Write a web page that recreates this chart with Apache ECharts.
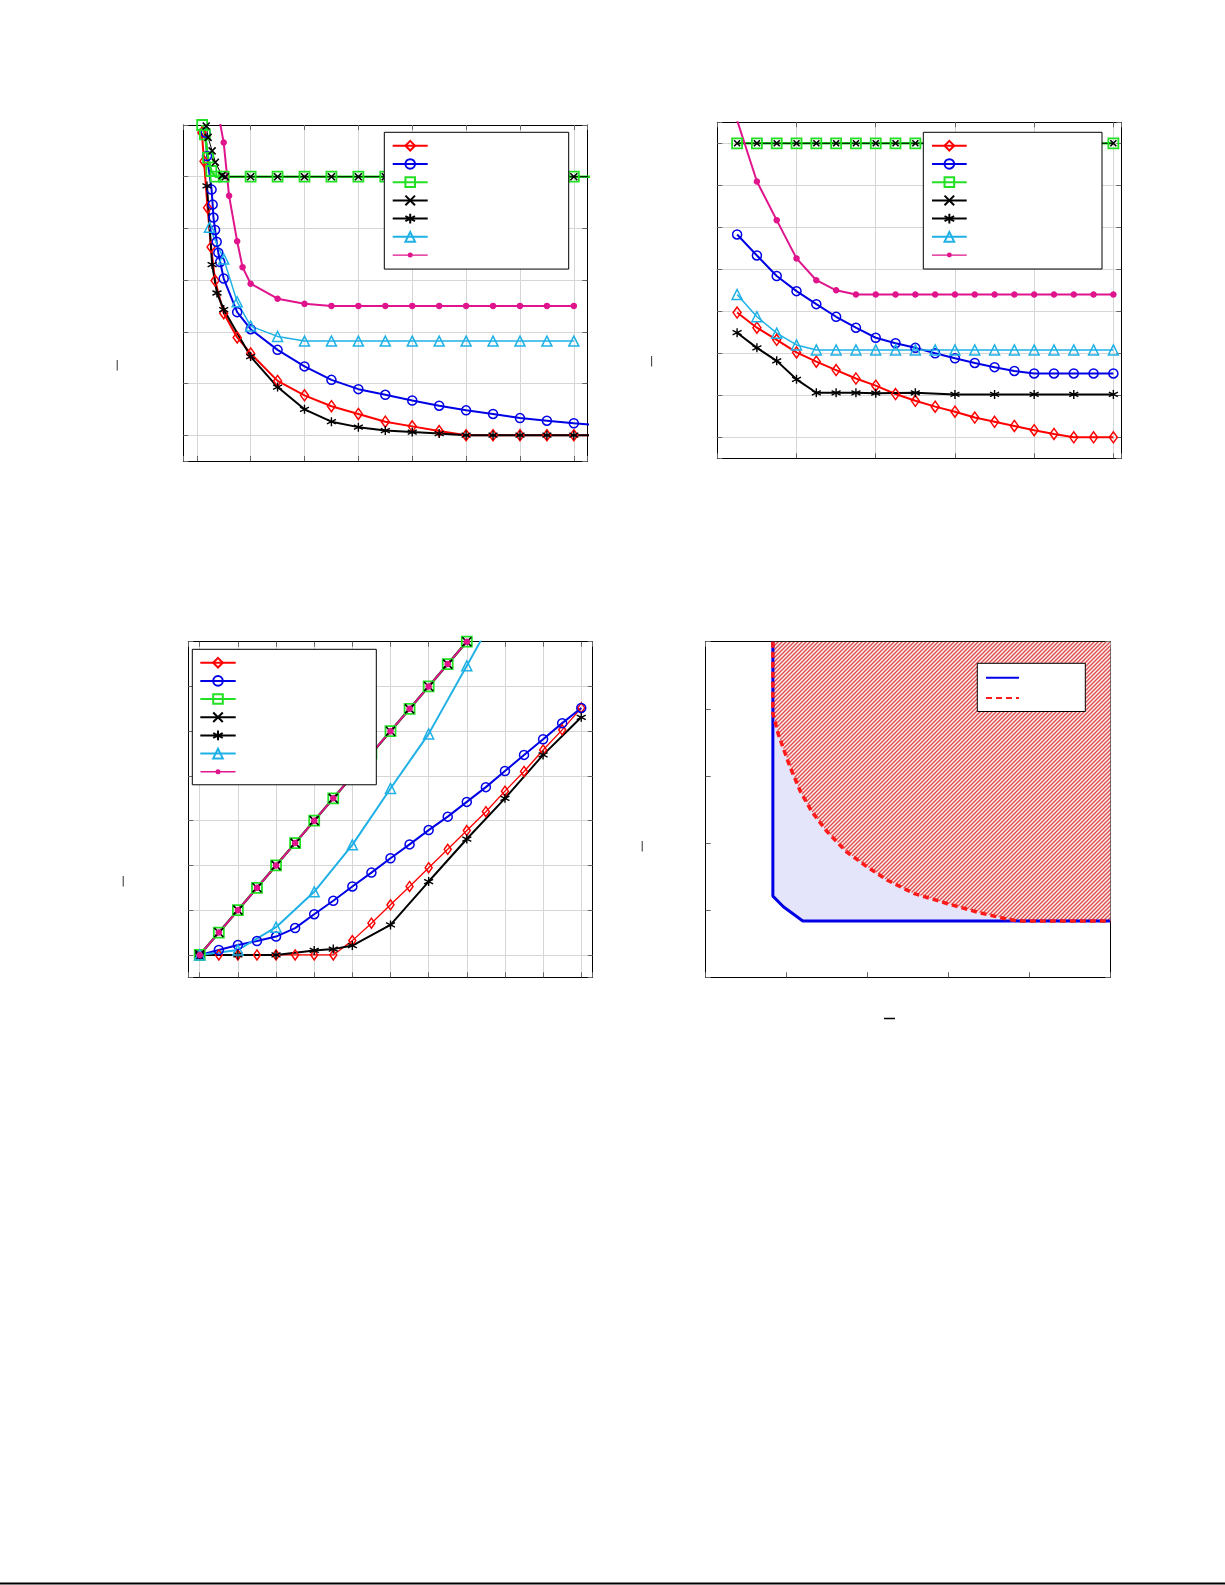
<!DOCTYPE html>
<html><head><meta charset="utf-8">
<script src="https://cdn.jsdelivr.net/npm/echarts@6/dist/echarts.min.js"></script>
<style>html,body{margin:0;padding:0;background:#fff}#c{width:1225px;height:1585px}</style>
</head><body><div id="c"></div>
<script>
// ---------- DATA ----------
// Panel 1 (top-left): [x, y] pairs
const p1Red = [[0.19,5.85],[0.27,5.30],[0.40,4.40],[0.53,3.64],[0.68,2.99],[1,2.36],[1.5,1.89],[2,1.58],[3,1.05],[4,0.77],[5,0.56],[6,0.41],[7,0.26],[8,0.17],[9,0.08],[10,0],[11,0],[12,0],[13,0],[14,0],[15,0]];
const p1Blue = [[0.33,5.85],[0.38,5.40],[0.55,4.75],[0.59,4.46],[0.62,4.21],[0.68,3.97],[0.74,3.74],[0.80,3.53],[0.87,3.35],[1,3.03],[1.5,2.38],[2,2.05],[3,1.65],[4,1.33],[5,1.07],[6,0.89],[7,0.78],[8,0.67],[9,0.57],[10,0.48],[11,0.41],[12,0.33],[13,0.28],[14,0.23],[15,0.19]];
const p1Green = [[0.20,6.00],[0.30,5.82],[0.42,5.37],[0.54,5.11],[0.70,5.00],[1,5],[2,5],[3,5],[4,5],[5,5],[6,5],[7,5],[8,5],[9,5],[10,5],[11,5],[12,5],[13,5],[14,5],[15,5]];
const p1Cross = [[0.35,5.98],[0.42,5.76],[0.57,5.50],[0.69,5.28],[0.94,5.02],[1.06,5],[2,5],[3,5],[4,5],[5,5],[6,5],[7,5],[8,5],[9,5],[10,5],[11,5],[12,5],[13,5],[14,5],[15,5]];
const p1Star = [[0.38,4.82],[0.57,3.30],[0.75,2.75],[1,2.43],[2,1.52],[3,0.93],[4,0.50],[5,0.26],[6,0.155],[7,0.09],[8,0.06],[9,0.03],[10,0],[11,0],[12,0],[13,0],[14,0],[15,0]];
const p1Cyan = [[0.47,4.02],[1,3.41],[1.5,2.58],[2,2.11],[3,1.91],[4,1.82],[5,1.82],[6,1.82],[7,1.82],[8,1.82],[9,1.82],[10,1.82],[11,1.82],[12,1.82],[13,1.82],[14,1.82]];
const p1Magenta = [[0.7,6.5],[1,5.66],[1.2,4.63],[1.5,3.75],[1.7,3.25],[2,2.93],[3,2.64],[4,2.54],[5,2.50],[6,2.50],[7,2.50],[8,2.50],[9,2.50],[10,2.50],[11,2.50],[12,2.50],[13,2.50],[14,2.50]];

// Panel 2 (top-right)
const p2X = [1,2,3,4,5,6,7,8,9,10,11,12,13,14,15,16,17,18,19,20];
const p2Red = [2.97,2.61,2.32,2.02,1.80,1.60,1.40,1.23,1.03,0.87,0.73,0.61,0.47,0.37,0.27,0.17,0.08,0,0,0];
const p2Blue = [4.83,4.33,3.84,3.48,3.17,2.87,2.61,2.37,2.24,2.13,2.00,1.88,1.77,1.67,1.58,1.52,1.52,1.52,1.52,1.52];
const p2Green = [7,7,7,7,7,7,7,7,7,7,7,7,7,7,7,7,7,7,7,7];
const p2Cross = [7,7,7,7,7,7,7,7,7,7,7,7,7,7,7,7,7,7,7,7];
const p2StarX = [1,2,3,4,5,6,7,8,10,12,14,16,18,20];
const p2Star = [2.49,2.13,1.82,1.38,1.06,1.06,1.06,1.05,1.06,1.02,1.02,1.02,1.02,1.02];
const p2Cyan = [3.40,2.87,2.48,2.20,2.08,2.08,2.08,2.08,2.08,2.08,2.08,2.08,2.08,2.08,2.08,2.08,2.08,2.08,2.08,2.08];
const p2Magenta = [7.55,6.09,5.17,4.26,3.74,3.50,3.40,3.40,3.40,3.40,3.40,3.40,3.40,3.40,3.40,3.40,3.40,3.40,3.40,3.40];

// Panel 3 (bottom-left)
const p3X = [0,1,2,3,4,5,6,7,8,9,10,11,12,13,14,15,16,17,18,19,20];
const p3Red = [0,0,0,0,0,0,0,0,0.32,0.71,1.12,1.53,1.95,2.36,2.78,3.20,3.66,4.10,4.58,5.03,5.52];
const p3Blue = [0,0.11,0.22,0.31,0.41,0.60,0.91,1.21,1.53,1.84,2.16,2.47,2.79,3.09,3.42,3.75,4.11,4.47,4.82,5.18,5.52];
const p3Green = [0,0.5,1,1.5,2,2.5,3,3.5,4,4.5,5,5.5,6,6.5,7,7.5,8];
const p3Cross = [0,0.5,1,1.5,2,2.5,3,3.5,4,4.5,5,5.5,6,6.5,7,7.5,8];
const p3Magenta = [0,0.5,1,1.5,2,2.5,3,3.5,4,4.5,5,5.5,6,6.5,7,7.5,8];
const p3StarX = [0,2,4,6,7,8,10,12,14,16,18,20];
const p3Star = [0,0,0,0.10,0.13,0.21,0.67,1.64,2.59,3.50,4.47,5.31];
const p3CyanX = [0,2,4,6,8,10,12,14,16];
const p3Cyan = [0,0.11,0.62,1.41,2.46,3.72,4.94,6.46,8.0];

// Panel 4 (bottom-right): boundaries
const p4Blue = [[0.83,5],[0.83,1.21],[0.96,1.05],[1.2,0.84],[5,0.84]];
const p4Red = [[0.83,5],[0.83,3.93],[0.90,3.61],[0.96,3.41],[1.04,3.14],[1.17,2.77],[1.31,2.47],[1.5,2.17],[1.74,1.87],[1.99,1.65],[2.24,1.45],[2.57,1.25],[2.98,1.10],[3.39,0.96],[3.68,0.88],[3.84,0.84],[5,0.84]];

// ---------- STYLE / LAYOUT ----------
const C = {red:'#ff0000', blue:'#0000e6', green:'#22e022', black:'#000000', cyan:'#1fb1e6', magenta:'#e0148c'};
const CROSS = 'path://M0,0L10,10M0,10L10,0';
const STAR = 'path://M5,0L5,10M0.67,2.5L9.33,7.5M0.67,7.5L9.33,2.5';
const NONE = 'rgba(255,255,255,0)';
const DOT_ICON = 'path://M0,0L0.01,0L0,0.01Z M0,5.3L35,5.3L35,6.7L0,6.7Z M20,6A2.5,2.5 0 1 1 15,6A2.5,2.5 0 1 1 20,6Z M35,12L34.99,12L35,11.99Z';

const grids = [
  {left:183.3, top:125, width:404, height:336},
  {left:717.3, top:122.3, width:404, height:336},
  {left:188.3, top:641.7, width:404.4, height:335.6},
  {left:705.7, top:641.7, width:404.6, height:335.6}
];
const xCfg = [
  {min:-0.5, max:14.5, splitNumber:7},
  {min:0, max:20.4, interval:4},
  {min:-0.6, max:20.6, splitNumber:10},
  {min:0, max:5, interval:1}
];
const yCfg = [
  {min:-0.5, max:6, splitNumber:6},
  {min:-0.5, max:7.5, splitNumber:6},
  {min:-0.5, max:7, splitNumber:6},
  {min:0, max:5, interval:1}
];
function axes(dim, cfgs) {
  const out = [];
  cfgs.forEach((cfg, gi) => {
    const base = Object.assign({
      gridIndex: gi, type: 'value', silent: true,
      axisLabel: {show: false},
      axisLine: {show: true, onZero: false, lineStyle: {color: '#000', width: 1}},
      axisTick: {show: true, inside: true, length: 5, lineStyle: {color: '#666', width: 1}},
      splitLine: {show: gi < 3, lineStyle: {color: '#d6d6d6', width: 1}}
    }, cfg);
    const a = Object.assign({}, base, {position: dim === 'x' ? 'bottom' : 'left'});
    const b = Object.assign({}, base, {position: dim === 'x' ? 'top' : 'right', splitLine: {show: false}});
    out.push(a, b);
  });
  return out;
}
function zip(xs, ys) { return ys.map((y, i) => [xs[i], y]); }
function ser(name, p, data, o) {
  return {
    name, type: 'line', xAxisIndex: 2 * p, yAxisIndex: 2 * p, data,
    silent: true, animation: false, showAllSymbol: true, clip: true,
    symbol: o.symbol, symbolSize: o.size,
    itemStyle: {color: o.fill || NONE, borderColor: o.color, borderWidth: o.bw || 1.5},
    lineStyle: {color: o.color, width: o.lw},
    z: o.z || 2
  };
}
const series = [];
function addPanel(p, prefix, d, opt) {
  series.push(ser(prefix + '1', p, d.red, {symbol: 'diamond', size: opt.dia, color: C.red, lw: opt.redLw}));
  series.push(ser(prefix + '2', p, d.blue, {symbol: 'circle', size: 9, color: C.blue, lw: 2}));
  series.push(ser(prefix + '3', p, d.green, {symbol: 'rect', size: 10, color: C.green, lw: 2.5, bw: 1.8}));
  series.push(ser(prefix + '4', p, d.cross, {symbol: CROSS, size: opt.cross, color: C.black, lw: opt.crossLw, bw: 1.6}));
  series.push(ser(prefix + '5', p, d.star, {symbol: STAR, size: 9, color: C.black, lw: 2, bw: 1.4}));
  series.push(ser(prefix + '6', p, d.cyan, {symbol: 'triangle', size: 10, color: C.cyan, lw: opt.cyanLw}));
  series.push(ser(prefix + '7', p, d.magenta, {symbol: 'circle', size: 5, color: C.magenta, fill: C.magenta, lw: 2, bw: 0}));
}
addPanel(0, 'a', {red: p1Red, blue: p1Blue, green: p1Green, cross: p1Cross, star: p1Star, cyan: p1Cyan, magenta: p1Magenta},
  {dia: [8, 11], redLw: 2, cross: 7, crossLw: 1, cyanLw: 1.5});
addPanel(1, 'b', {red: zip(p2X, p2Red), blue: zip(p2X, p2Blue), green: zip(p2X, p2Green), cross: zip(p2X, p2Cross),
  star: zip(p2StarX, p2Star), cyan: zip(p2X, p2Cyan), magenta: zip(p2X, p2Magenta)},
  {dia: [8, 11], redLw: 2, cross: 6, crossLw: 1, cyanLw: 1.5});
addPanel(2, 'c', {red: zip(p3X, p3Red), blue: zip(p3X, p3Blue), green: zip(p3X, p3Green), cross: zip(p3X, p3Cross),
  star: zip(p3StarX, p3Star), cyan: zip(p3CyanX, p3Cyan), magenta: zip(p3X, p3Magenta)},
  {dia: [7, 10], redLw: 1.3, cross: 9, crossLw: 2, cyanLw: 2});

// hatch pattern for panel 4
const pc = document.createElement('canvas'); pc.width = 4; pc.height = 4;
const cx = pc.getContext('2d');
cx.fillStyle = '#fdeeee'; cx.fillRect(0, 0, 4, 4);
cx.strokeStyle = '#dc4c4c'; cx.lineWidth = 1.3;
cx.beginPath();
cx.moveTo(-1, 5); cx.lineTo(5, -1);
cx.moveTo(-1, 1); cx.lineTo(1, -1);
cx.moveTo(3, 5); cx.lineTo(5, 3);
cx.stroke();

series.push({name: 'dfillB', type: 'line', xAxisIndex: 6, yAxisIndex: 6, data: p4Blue, silent: true, animation: false,
  symbol: 'none', lineStyle: {width: 0}, areaStyle: {origin: 'end', color: '#e4e4fb', opacity: 1}, z: 1});
series.push({name: 'dfillR', type: 'line', xAxisIndex: 6, yAxisIndex: 6, data: p4Red, silent: true, animation: false,
  symbol: 'none', lineStyle: {width: 0}, areaStyle: {origin: 'end', color: {image: pc, repeat: 'repeat'}, opacity: 1}, z: 1});
series.push({name: 'd1', type: 'line', xAxisIndex: 6, yAxisIndex: 6, data: p4Blue, silent: true, animation: false,
  symbol: 'none', itemStyle: {color: NONE, borderWidth: 0, opacity: 0}, lineStyle: {color: C.blue, width: 3}, z: 3});
series.push({name: 'd2', type: 'line', xAxisIndex: 6, yAxisIndex: 6, data: p4Red, silent: true, animation: false,
  symbol: 'none', itemStyle: {color: NONE, borderWidth: 0, opacity: 0}, lineStyle: {color: '#ff1a1a', width: 3.5, type: [6, 4]}, z: 4});

function legend(names, left, top, pad, itemWidth, itemHeight, gap, extra) {
  return Object.assign({
    data: names, orient: 'vertical', left, top, padding: pad, itemWidth, itemHeight, itemGap: gap,
    align: 'left', selectedMode: false, formatter: () => '', backgroundColor: '#fff',
    borderColor: '#000', borderWidth: 1, borderRadius: 0, textStyle: {fontSize: 1}, z: 10
  }, extra || {});
}
const dotItem = (n) => ({name: n, icon: DOT_ICON, itemStyle: {color: C.magenta, borderWidth: 0}});
const legends = [
  legend(['a1','a2','a3','a4','a5','a6',dotItem('a7')], 384.3, 132.3, [7.4, 140, 8, 7.4], 35, 12, 6.43),
  legend(['b1','b2','b3','b4','b5','b6',dotItem('b7')], 923.3, 132.3, [7.4, 134.3, 8, 7.7], 34.7, 12, 6.43),
  legend(['c1','c2','c3','c4','c5','c6',dotItem('c7')], 192.3, 649.3, [7.4, 139.6, 7, 7], 35.4, 12, 6.38),
  legend(['d1','d2'], 977.3, 663.3, [7.4, 65.3, 8, 7.7], 33, 14, 7.6)
];

const bar = (x, y) => ({type: 'text', x, y, silent: true,
  style: {text: '|', fontSize: 10, fontFamily: 'DejaVu Sans', fill: '#000', align: 'center', verticalAlign: 'middle'}});

const option = {
  backgroundColor: '#fff',
  animation: false,
  textStyle: {fontFamily: 'DejaVu Sans'},
  grid: grids.map(g => Object.assign({containLabel: false, show: false}, g)),
  xAxis: axes('x', xCfg),
  yAxis: axes('y', yCfg),
  legend: legends,
  series,
  graphic: [
    bar(117.3, 365.5), bar(651.7, 361.7), bar(123.3, 881.7), bar(642.3, 846.7),
    {type: 'line', silent: true, shape: {x1: 884, y1: 1018.5, x2: 895, y2: 1018.5}, style: {stroke: '#000', lineWidth: 1.5}},
    {type: 'line', silent: true, shape: {x1: 0, y1: 1583.5, x2: 1225, y2: 1583.5}, style: {stroke: '#000', lineWidth: 2}}
  ]
};
const chart = echarts.init(document.getElementById('c'), null, {renderer: 'canvas'});
chart.setOption(option);
</script></body></html>
